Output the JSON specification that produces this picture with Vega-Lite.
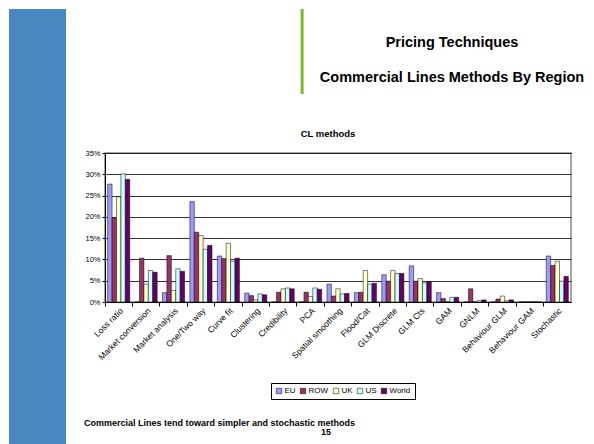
{
 "$schema": "https://vega.github.io/schema/vega-lite/v6.json",
 "background": "white",
 "padding": {"left": 9, "top": 7, "right": 0, "bottom": 0},
 "config": {
   "font": "Liberation Sans",
   "title": {"font": "Liberation Sans", "color": "black", "fontWeight": "bold"}
 },
 "spacing": 18,
 "hconcat": [
  {"width": 57, "height": 437, "view": {"stroke": null}, "data": {"values": [{}]}, "mark": {"type": "rect", "color": "#4A86BF"}, "encoding": {}},
  {"spacing": 0,
   "vconcat": [
    {"width": 466, "height": 118, "view": {"stroke": null},
     "layer": [
      {"data": {"values": [{"pos": 0.423, "top": 1.0, "bottom": 0.28}]},
       "mark": {"type": "rule", "color": "#77BB22", "strokeWidth": 3},
       "encoding": {
         "x": {"field": "pos", "type": "quantitative", "scale": {"domain": [0, 1]}, "axis": null},
         "y": {"field": "top", "type": "quantitative", "scale": {"domain": [0, 1]}, "axis": null},
         "y2": {"field": "bottom"}
       }},
      {"data": {"values": [{"t": "Pricing Techniques"}]},
       "mark": {"type": "text", "font": "Liberation Sans", "fontWeight": "bold", "fontSize": 14.5, "color": "black", "dx": 114, "dy": -25.5},
       "encoding": {"text": {"field": "t", "type": "nominal"}}},
      {"data": {"values": [{"t": "Commercial Lines Methods By Region"}]},
       "mark": {"type": "text", "font": "Liberation Sans", "fontWeight": "bold", "fontSize": 14.5, "color": "black", "dx": 114, "dy": 9.5},
       "encoding": {"text": {"field": "t", "type": "nominal"}}}
     ]
    },
    {"vconcat": [
     {
      "width": 466, "height": 149,
      "title": {"text": "CL methods", "fontSize": 9.5, "offset": 11, "frame": "bounds"},
      "view": {"stroke": "#888", "strokeWidth": 1.5},
      "data": {"values": [
       {"method": "Loss ratio", "region": "EU", "value": 0.277},
       {"method": "Loss ratio", "region": "ROW", "value": 0.198},
       {"method": "Loss ratio", "region": "UK", "value": 0.247},
       {"method": "Loss ratio", "region": "US", "value": 0.301},
       {"method": "Loss ratio", "region": "World", "value": 0.288},
       {"method": "Market conversion", "region": "EU", "value": 0},
       {"method": "Market conversion", "region": "ROW", "value": 0.103},
       {"method": "Market conversion", "region": "UK", "value": 0.042},
       {"method": "Market conversion", "region": "US", "value": 0.074},
       {"method": "Market conversion", "region": "World", "value": 0.070},
       {"method": "Market analysis", "region": "EU", "value": 0.022},
       {"method": "Market analysis", "region": "ROW", "value": 0.109},
       {"method": "Market analysis", "region": "UK", "value": 0.027},
       {"method": "Market analysis", "region": "US", "value": 0.078},
       {"method": "Market analysis", "region": "World", "value": 0.072},
       {"method": "One/Two way", "region": "EU", "value": 0.236},
       {"method": "One/Two way", "region": "ROW", "value": 0.164},
       {"method": "One/Two way", "region": "UK", "value": 0.156},
       {"method": "One/Two way", "region": "US", "value": 0.124},
       {"method": "One/Two way", "region": "World", "value": 0.133},
       {"method": "Curve fit", "region": "EU", "value": 0.108},
       {"method": "Curve fit", "region": "ROW", "value": 0.102},
       {"method": "Curve fit", "region": "UK", "value": 0.138},
       {"method": "Curve fit", "region": "US", "value": 0.096},
       {"method": "Curve fit", "region": "World", "value": 0.103},
       {"method": "Clustering", "region": "EU", "value": 0.021},
       {"method": "Clustering", "region": "ROW", "value": 0.015},
       {"method": "Clustering", "region": "UK", "value": 0.005},
       {"method": "Clustering", "region": "US", "value": 0.019},
       {"method": "Clustering", "region": "World", "value": 0.017},
       {"method": "Credibility", "region": "EU", "value": 0},
       {"method": "Credibility", "region": "ROW", "value": 0.023},
       {"method": "Credibility", "region": "UK", "value": 0.031},
       {"method": "Credibility", "region": "US", "value": 0.033},
       {"method": "Credibility", "region": "World", "value": 0.031},
       {"method": "PCA", "region": "EU", "value": 0},
       {"method": "PCA", "region": "ROW", "value": 0.023},
       {"method": "PCA", "region": "UK", "value": 0.013},
       {"method": "PCA", "region": "US", "value": 0.033},
       {"method": "PCA", "region": "World", "value": 0.030},
       {"method": "Spatial smoothing", "region": "EU", "value": 0.042},
       {"method": "Spatial smoothing", "region": "ROW", "value": 0.014},
       {"method": "Spatial smoothing", "region": "UK", "value": 0.031},
       {"method": "Spatial smoothing", "region": "US", "value": 0.019},
       {"method": "Spatial smoothing", "region": "World", "value": 0.020},
       {"method": "Flood/Cat", "region": "EU", "value": 0.022},
       {"method": "Flood/Cat", "region": "ROW", "value": 0.023},
       {"method": "Flood/Cat", "region": "UK", "value": 0.074},
       {"method": "Flood/Cat", "region": "US", "value": 0.042},
       {"method": "Flood/Cat", "region": "World", "value": 0.044},
       {"method": "GLM Discrete", "region": "EU", "value": 0.064},
       {"method": "GLM Discrete", "region": "ROW", "value": 0.049},
       {"method": "GLM Discrete", "region": "UK", "value": 0.074},
       {"method": "GLM Discrete", "region": "US", "value": 0.067},
       {"method": "GLM Discrete", "region": "World", "value": 0.067},
       {"method": "GLM Cts", "region": "EU", "value": 0.085},
       {"method": "GLM Cts", "region": "ROW", "value": 0.049},
       {"method": "GLM Cts", "region": "UK", "value": 0.055},
       {"method": "GLM Cts", "region": "US", "value": 0.045},
       {"method": "GLM Cts", "region": "World", "value": 0.047},
       {"method": "GAM", "region": "EU", "value": 0.022},
       {"method": "GAM", "region": "ROW", "value": 0.008},
       {"method": "GAM", "region": "UK", "value": 0},
       {"method": "GAM", "region": "US", "value": 0.011},
       {"method": "GAM", "region": "World", "value": 0.011},
       {"method": "GNLM", "region": "EU", "value": 0},
       {"method": "GNLM", "region": "ROW", "value": 0.031},
       {"method": "GNLM", "region": "UK", "value": 0},
       {"method": "GNLM", "region": "US", "value": 0.003},
       {"method": "GNLM", "region": "World", "value": 0.005},
       {"method": "Behaviour GLM", "region": "EU", "value": 0},
       {"method": "Behaviour GLM", "region": "ROW", "value": 0.007},
       {"method": "Behaviour GLM", "region": "UK", "value": 0.014},
       {"method": "Behaviour GLM", "region": "US", "value": 0.003},
       {"method": "Behaviour GLM", "region": "World", "value": 0.005},
       {"method": "Behaviour GAM", "region": "EU", "value": 0},
       {"method": "Behaviour GAM", "region": "ROW", "value": 0},
       {"method": "Behaviour GAM", "region": "UK", "value": 0},
       {"method": "Behaviour GAM", "region": "US", "value": 0.001},
       {"method": "Behaviour GAM", "region": "World", "value": 0},
       {"method": "Stochastic", "region": "EU", "value": 0.108},
       {"method": "Stochastic", "region": "ROW", "value": 0.086},
       {"method": "Stochastic", "region": "UK", "value": 0.096},
       {"method": "Stochastic", "region": "US", "value": 0.049},
       {"method": "Stochastic", "region": "World", "value": 0.060}
      ]},
      "mark": {"type": "bar", "stroke": "black", "strokeWidth": 0.5},
      "encoding": {
        "x": {"field": "method", "type": "nominal", "sort": null,
              "scale": {"paddingInner": 0, "paddingOuter": 0},
              "axis": {"title": null, "labelAngle": -45, "labelFontSize": 8.5, "labelColor": "black", "bandPosition": 0, "tickSize": 4, "tickColor": "black", "domainColor": "black", "labelPadding": 0}},
        "xOffset": {"field": "region", "type": "nominal", "sort": null, "scale": {"paddingOuter": 0.6, "paddingInner": 0}},
        "y": {"field": "value", "type": "quantitative", "scale": {"domain": [0, 0.35]},
              "axis": {"title": null, "format": ".0%", "values": [0, 0.05, 0.1, 0.15, 0.2, 0.25, 0.3, 0.35], "labelFontSize": 7.5, "labelColor": "black", "tickSize": 3, "tickColor": "black", "domainColor": "black", "gridColor": "black", "gridWidth": 0.8, "labelPadding": 2}},
        "color": {"field": "region", "type": "nominal", "sort": null,
                  "scale": {"domain": ["EU", "ROW", "UK", "US", "World"], "range": ["#9999FF", "#993366", "#FFFFCC", "#CCFFFF", "#660066"]},
                  "legend": {"title": null, "orient": "none", "legendX": 262, "legendY": 374, "direction": "horizontal", "columns": 5, "gridAlign": "none", "strokeColor": "black", "padding": 4, "symbolType": "square", "symbolSize": 30, "symbolStrokeColor": "black", "symbolStrokeWidth": 0.5, "labelFontSize": 8, "labelColor": "black", "columnPadding": 3, "labelOffset": 1.5}}
      }
     }],
     "spacing": 0
    },
    {"width": 466, "height": 80, "view": {"stroke": null},
     "layer": [
      {"data": {"values": [{"t": "Commercial Lines tend toward simpler and stochastic methods"}]},
       "mark": {"type": "text", "font": "Liberation Sans", "fontWeight": "bold", "fontSize": 9, "color": "black", "align": "left", "dx": -254, "dy": 21},
       "encoding": {"text": {"field": "t", "type": "nominal"}}},
      {"data": {"values": [{"t": "15"}]},
       "mark": {"type": "text", "font": "Liberation Sans", "fontWeight": "bold", "fontSize": 9, "color": "black", "dx": -12, "dy": 30},
       "encoding": {"text": {"field": "t", "type": "nominal"}}}
     ]
    }
   ]
  }
 ]
}
